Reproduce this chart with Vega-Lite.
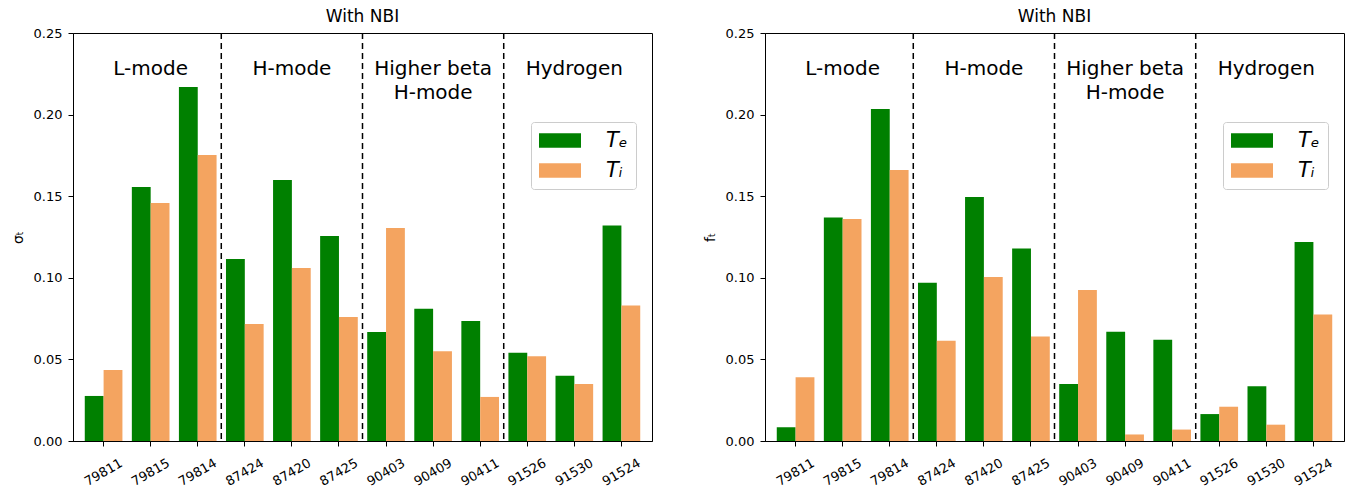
{
  "$schema": "https://vega.github.io/schema/vega-lite/v6.json",
  "padding": {"left": 10, "top": 7, "right": 2, "bottom": 2},
  "datasets": {
    "bars": [
      {"panel": "sigma", "shot": "79811", "series": "Te", "value": 0.0276},
      {"panel": "sigma", "shot": "79811", "series": "Ti", "value": 0.0435},
      {"panel": "sigma", "shot": "79815", "series": "Te", "value": 0.1556},
      {"panel": "sigma", "shot": "79815", "series": "Ti", "value": 0.1458},
      {"panel": "sigma", "shot": "79814", "series": "Te", "value": 0.2169},
      {"panel": "sigma", "shot": "79814", "series": "Ti", "value": 0.1752},
      {"panel": "sigma", "shot": "87424", "series": "Te", "value": 0.1115},
      {"panel": "sigma", "shot": "87424", "series": "Ti", "value": 0.0717},
      {"panel": "sigma", "shot": "87420", "series": "Te", "value": 0.16},
      {"panel": "sigma", "shot": "87420", "series": "Ti", "value": 0.106},
      {"panel": "sigma", "shot": "87425", "series": "Te", "value": 0.1256},
      {"panel": "sigma", "shot": "87425", "series": "Ti", "value": 0.076},
      {"panel": "sigma", "shot": "90403", "series": "Te", "value": 0.0668},
      {"panel": "sigma", "shot": "90403", "series": "Ti", "value": 0.1305},
      {"panel": "sigma", "shot": "90409", "series": "Te", "value": 0.081},
      {"panel": "sigma", "shot": "90409", "series": "Ti", "value": 0.055},
      {"panel": "sigma", "shot": "90411", "series": "Te", "value": 0.0735},
      {"panel": "sigma", "shot": "90411", "series": "Ti", "value": 0.027},
      {"panel": "sigma", "shot": "91526", "series": "Te", "value": 0.054},
      {"panel": "sigma", "shot": "91526", "series": "Ti", "value": 0.052},
      {"panel": "sigma", "shot": "91530", "series": "Te", "value": 0.04},
      {"panel": "sigma", "shot": "91530", "series": "Ti", "value": 0.035},
      {"panel": "sigma", "shot": "91524", "series": "Te", "value": 0.132},
      {"panel": "sigma", "shot": "91524", "series": "Ti", "value": 0.083},
      {"panel": "f", "shot": "79811", "series": "Te", "value": 0.0085},
      {"panel": "f", "shot": "79811", "series": "Ti", "value": 0.039},
      {"panel": "f", "shot": "79815", "series": "Te", "value": 0.137},
      {"panel": "f", "shot": "79815", "series": "Ti", "value": 0.136},
      {"panel": "f", "shot": "79814", "series": "Te", "value": 0.2035},
      {"panel": "f", "shot": "79814", "series": "Ti", "value": 0.166},
      {"panel": "f", "shot": "87424", "series": "Te", "value": 0.097},
      {"panel": "f", "shot": "87424", "series": "Ti", "value": 0.0615},
      {"panel": "f", "shot": "87420", "series": "Te", "value": 0.1495},
      {"panel": "f", "shot": "87420", "series": "Ti", "value": 0.1005},
      {"panel": "f", "shot": "87425", "series": "Te", "value": 0.118},
      {"panel": "f", "shot": "87425", "series": "Ti", "value": 0.064},
      {"panel": "f", "shot": "90403", "series": "Te", "value": 0.035},
      {"panel": "f", "shot": "90403", "series": "Ti", "value": 0.0925},
      {"panel": "f", "shot": "90409", "series": "Te", "value": 0.067},
      {"panel": "f", "shot": "90409", "series": "Ti", "value": 0.004},
      {"panel": "f", "shot": "90411", "series": "Te", "value": 0.062},
      {"panel": "f", "shot": "90411", "series": "Ti", "value": 0.007},
      {"panel": "f", "shot": "91526", "series": "Te", "value": 0.0165},
      {"panel": "f", "shot": "91526", "series": "Ti", "value": 0.021},
      {"panel": "f", "shot": "91530", "series": "Te", "value": 0.0335},
      {"panel": "f", "shot": "91530", "series": "Ti", "value": 0.01},
      {"panel": "f", "shot": "91524", "series": "Te", "value": 0.122},
      {"panel": "f", "shot": "91524", "series": "Ti", "value": 0.0775}
    ],
    "bounds": [
      {"shot": "87424"},
      {"shot": "90403"},
      {"shot": "91526"}
    ],
    "groups": [
      {"shot": "79815", "label": "L-mode"},
      {"shot": "87420", "label": "H-mode"},
      {"shot": "90409", "label": "Higher beta\nH-mode"},
      {"shot": "91530", "label": "Hydrogen"}
    ]
  },
  "hconcat": [
    {
      "width": 579,
      "height": 408,
      "title": "With NBI",
      "encoding": {
        "x": {
          "field": "shot",
          "type": "nominal",
          "scale": {
            "domain": ["79811", "79815", "79814", "87424", "87420", "87425", "90403", "90409", "90411", "91526", "91530", "91524"],
            "paddingInner": 0.2,
            "paddingOuter": 0.25
          },
          "axis": {"title": null, "labelAngle": -30, "labelAlign": "center", "labelBaseline": "middle", "labelPadding": 26}
        }
      },
      "layer": [
        {
          "data": {"name": "bars"},
          "transform": [{"filter": "datum.panel === 'sigma'"}],
          "mark": {"type": "bar"},
          "encoding": {
            "xOffset": {"field": "series", "type": "nominal", "scale": {"paddingInner": 0, "paddingOuter": 0}},
            "y": {
              "field": "value",
              "type": "quantitative",
              "scale": {"domain": [0, 0.25], "nice": false},
              "axis": {"title": "σₜ", "values": [0, 0.05, 0.1, 0.15, 0.2, 0.25], "format": ".2f"}
            },
            "color": {
              "field": "series",
              "type": "nominal",
              "scale": {"domain": ["Te", "Ti"], "range": ["#008000", "#f4a460"]},
              "legend": {
                "orient": "none",
                "legendX": 458,
                "legendY": 89,
                "labelExpr": "datum.label === 'Te' ? 'Tₑ' : 'Tᵢ'"
              }
            }
          }
        },
        {
          "data": {"name": "bounds"},
          "mark": {"type": "rule", "color": "black", "strokeDash": [6, 4], "strokeWidth": 1.5},
          "encoding": {"x": {"field": "shot", "type": "nominal", "bandPosition": -0.125}}
        },
        {
          "data": {"name": "groups"},
          "mark": {"type": "text", "fontSize": 20, "baseline": "alphabetic", "lineBreak": "\n", "lineHeight": 24},
          "encoding": {
            "x": {"field": "shot", "type": "nominal", "bandPosition": 0.5},
            "y": {"datum": 0.2243, "type": "quantitative"},
            "text": {"field": "label"}
          }
        }
      ]
    },
    {
      "width": 579,
      "height": 408,
      "title": "With NBI",
      "encoding": {
        "x": {
          "field": "shot",
          "type": "nominal",
          "scale": {
            "domain": ["79811", "79815", "79814", "87424", "87420", "87425", "90403", "90409", "90411", "91526", "91530", "91524"],
            "paddingInner": 0.2,
            "paddingOuter": 0.25
          },
          "axis": {"title": null, "labelAngle": -30, "labelAlign": "center", "labelBaseline": "middle", "labelPadding": 26}
        }
      },
      "layer": [
        {
          "data": {"name": "bars"},
          "transform": [{"filter": "datum.panel === 'f'"}],
          "mark": {"type": "bar"},
          "encoding": {
            "xOffset": {"field": "series", "type": "nominal", "scale": {"paddingInner": 0, "paddingOuter": 0}},
            "y": {
              "field": "value",
              "type": "quantitative",
              "scale": {"domain": [0, 0.25], "nice": false},
              "axis": {"title": "fₜ", "values": [0, 0.05, 0.1, 0.15, 0.2, 0.25], "format": ".2f"}
            },
            "color": {
              "field": "series",
              "type": "nominal",
              "scale": {"domain": ["Te", "Ti"], "range": ["#008000", "#f4a460"]},
              "legend": {
                "orient": "none",
                "legendX": 458,
                "legendY": 89,
                "labelExpr": "datum.label === 'Te' ? 'Tₑ' : 'Tᵢ'"
              }
            }
          }
        },
        {
          "data": {"name": "bounds"},
          "mark": {"type": "rule", "color": "black", "strokeDash": [6, 4], "strokeWidth": 1.5},
          "encoding": {"x": {"field": "shot", "type": "nominal", "bandPosition": -0.125}}
        },
        {
          "data": {"name": "groups"},
          "mark": {"type": "text", "fontSize": 20, "baseline": "alphabetic", "lineBreak": "\n", "lineHeight": 24},
          "encoding": {
            "x": {"field": "shot", "type": "nominal", "bandPosition": 0.5},
            "y": {"datum": 0.2243, "type": "quantitative"},
            "text": {"field": "label"}
          }
        }
      ]
    }
  ],
  "resolve": {"scale": {"color": "independent"}},
  "config": {
    "font": "DejaVu Sans",
    "view": {"stroke": "black", "strokeWidth": 1},
    "concat": {"spacing": 49},
    "title": {"fontSize": 17, "fontWeight": "normal", "color": "black", "offset": 1},
    "text": {"color": "black"},
    "axis": {
      "grid": false,
      "domainColor": "black",
      "tickColor": "black",
      "tickSize": 5,
      "labelFontSize": 13,
      "labelColor": "black",
      "labelPadding": 6,
      "titleFontSize": 14,
      "titleFontWeight": "normal",
      "titleColor": "black",
      "titlePadding": 8
    },
    "legend": {
      "title": null,
      "labelFontSize": 21,
      "labelFontStyle": "italic",
      "labelColor": "black",
      "labelOffset": 46,
      "symbolType": "M-1,-0.7H3V0.7H-1Z",
      "symbolSize": 441,
      "symbolStrokeWidth": 0,
      "symbolOpacity": 1,
      "rowPadding": 8,
      "padding": 8,
      "fillColor": "white",
      "strokeColor": "#cccccc",
      "cornerRadius": 3
    }
  }
}
